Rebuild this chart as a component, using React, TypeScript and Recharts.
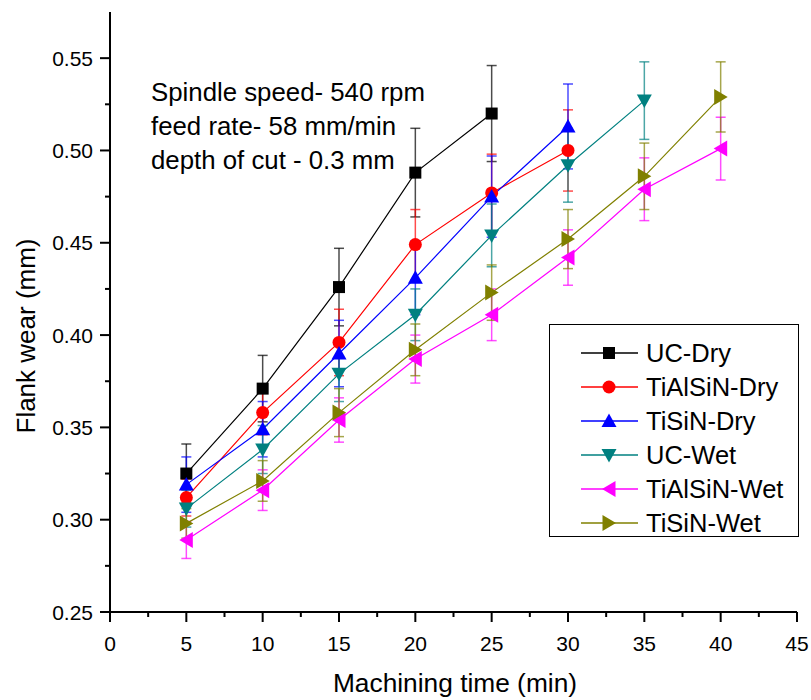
import React from 'react';
import { LineChart, Line, XAxis, YAxis, ErrorBar, Legend, Customized } from 'recharts';

const times = [5, 10, 15, 20, 25, 30, 35, 40];

const ucDry = [0.325, 0.371, 0.426, 0.488, 0.52];
const ucDryErr = [0.016, 0.018, 0.021, 0.024, 0.026];
const tialsinDry = [0.312, 0.358, 0.396, 0.449, 0.477, 0.5];
const tialsinDryErr = [0.01, 0.012, 0.018, 0.019, 0.021, 0.022];
const tisinDry = [0.319, 0.349, 0.39, 0.431, 0.475, 0.513];
const tisinDryErr = [0.015, 0.015, 0.018, 0.02, 0.022, 0.023];
const ucWet = [0.306, 0.338, 0.379, 0.411, 0.454, 0.492, 0.527];
const ucWetErr = [0.01, 0.013, 0.015, 0.014, 0.017, 0.02, 0.021];
const tialsinWet = [0.289, 0.316, 0.354, 0.387, 0.411, 0.442, 0.479, 0.501];
const tialsinWetErr = [0.01, 0.011, 0.012, 0.013, 0.014, 0.015, 0.017, 0.017];
const tisinWet = [0.298, 0.321, 0.358, 0.392, 0.423, 0.452, 0.486, 0.529];
const tisinWetErr = [0.008, 0.011, 0.013, 0.014, 0.015, 0.016, 0.018, 0.019];

const xTicks = [0, 2.5, 5, 7.5, 10, 12.5, 15, 17.5, 20, 22.5, 25, 27.5, 30, 32.5, 35, 37.5, 40, 42.5, 45];
const xMajor = [0, 5, 10, 15, 20, 25, 30, 35, 40, 45];
const yTicks = [0.25, 0.275, 0.3, 0.325, 0.35, 0.375, 0.4, 0.425, 0.45, 0.475, 0.5, 0.525, 0.55];
const yMajor = [0.25, 0.3, 0.35, 0.4, 0.45, 0.5, 0.55];

const annotation = ['Spindle speed- 540 rpm', 'feed rate- 58 mm/min', 'depth of cut - 0.3 mm'];
const xTitle = 'Machining time (min)';
const yTitle = 'Flank wear (mm)';

type Shape = 'square' | 'circle' | 'up' | 'down' | 'left' | 'right';

const series: { name: string; values: number[]; errs: number[]; color: string; shape: Shape }[] = [
  { name: 'UC-Dry', values: ucDry, errs: ucDryErr, color: '#000000', shape: 'square' },
  { name: 'TiAlSiN-Dry', values: tialsinDry, errs: tialsinDryErr, color: '#ff0000', shape: 'circle' },
  { name: 'TiSiN-Dry', values: tisinDry, errs: tisinDryErr, color: '#0000ff', shape: 'up' },
  { name: 'UC-Wet', values: ucWet, errs: ucWetErr, color: '#008080', shape: 'down' },
  { name: 'TiAlSiN-Wet', values: tialsinWet, errs: tialsinWetErr, color: '#ff00ff', shape: 'left' },
  { name: 'TiSiN-Wet', values: tisinWet, errs: tisinWetErr, color: '#808000', shape: 'right' },
];

const FONT = '"Liberation Sans", Arial, sans-serif';

function Marker({ shape, cx, cy, color }: { shape: Shape; cx: number; cy: number; color: string }) {
  if (cx == null || cy == null) return null;
  switch (shape) {
    case 'square':
      return <rect x={cx - 6} y={cy - 6} width={12} height={12} fill={color} />;
    case 'circle':
      return <circle cx={cx} cy={cy} r={6.5} fill={color} />;
    case 'up':
      return <polygon points={`${cx},${cy - 7.5} ${cx + 7.5},${cy + 6} ${cx - 7.5},${cy + 6}`} fill={color} />;
    case 'down':
      return <polygon points={`${cx},${cy + 7.5} ${cx + 7.5},${cy - 6} ${cx - 7.5},${cy - 6}`} fill={color} />;
    case 'left':
      return <polygon points={`${cx - 7},${cy} ${cx + 6.5},${cy - 8} ${cx + 6.5},${cy + 8}`} fill={color} />;
    case 'right':
      return <polygon points={`${cx + 7},${cy} ${cx - 6.5},${cy - 8} ${cx - 6.5},${cy + 8}`} fill={color} />;
  }
  return null;
}

const XTick = (props: any) => {
  const { x, y, payload } = props;
  const v = payload.value;
  const major = xMajor.includes(v);
  return (
    <g>
      <line x1={x} x2={x} y1={y} y2={y + (major ? 10 : 5)} stroke="#000" strokeWidth={2} />
      {major && (
        <text x={x} y={y + 39} textAnchor="middle" fontSize={21} fontFamily={FONT} fill="#000">
          {String(v)}
        </text>
      )}
    </g>
  );
};

const YTick = (props: any) => {
  const { x, y, payload } = props;
  const v = payload.value;
  const major = yMajor.some((m) => Math.abs(m - v) < 1e-9);
  return (
    <g>
      <line x1={x - (major ? 10 : 5)} x2={x} y1={y} y2={y} stroke="#000" strokeWidth={2} />
      {major && (
        <text x={x - 17} y={y + 7.5} textAnchor="end" fontSize={21} fontFamily={FONT} fill="#000">
          {v.toFixed(2)}
        </text>
      )}
    </g>
  );
};

const LegendBox = () => (
  <div style={{ width: 250, height: 213, border: '1px solid #000', boxSizing: 'border-box', background: '#fff' }}>
    <svg width={248} height={211} style={{ display: 'block' }}>
      {series.map((s, i) => {
        const cy = 28 + i * 34;
        return (
          <g key={s.name}>
            <line x1={31} x2={88} y1={cy} y2={cy} stroke={s.color} strokeWidth={1.3} />
            <Marker shape={s.shape} cx={59} cy={cy} color={s.color} />
            <text x={96} y={cy + 9} fontSize={25.5} fontFamily={FONT} fill="#000">
              {s.name}
            </text>
          </g>
        );
      })}
    </svg>
  </div>
);

const Texts = () => (
  <g fontFamily={FONT} fill="#000">
    {annotation.map((t, i) => (
      <text key={t} x={151} y={101 + i * 34} fontSize={25.8}>
        {t}
      </text>
    ))}
    <text x={455} y={692} textAnchor="middle" fontSize={26.3}>
      {xTitle}
    </text>
    <text x={26} y={336} textAnchor="middle" dominantBaseline="central" fontSize={26} transform="rotate(-90, 26, 336)">
      {yTitle}
    </text>
  </g>
);

export default function App() {
  return (
    <div style={{ position: 'absolute', left: 0, top: 0, width: 811, height: 700, background: '#fff' }}>
      <LineChart width={811} height={700} margin={{ top: 12, right: 14, bottom: 28, left: 50 }}>
        <XAxis
          dataKey="x"
          type="number"
          domain={[0, 45]}
          ticks={xTicks}
          interval={0}
          allowDataOverflow
          height={60}
          tickLine={false}
          tickSize={0}
          tickMargin={0}
          axisLine={{ stroke: '#000', strokeWidth: 2 }}
          tick={<XTick />}
        />
        <YAxis
          type="number"
          domain={[0.25, 0.575]}
          ticks={yTicks}
          interval={0}
          allowDataOverflow
          width={60}
          tickLine={false}
          tickSize={0}
          tickMargin={0}
          axisLine={{ stroke: '#000', strokeWidth: 2 }}
          tick={<YTick />}
        />
        <Customized component={Texts} />
        {series.map((s) => (
          <Line
            key={s.name}
            name={s.name}
            data={s.values.map((v, i) => ({ x: times[i], y: v, e: s.errs[i] }))}
            dataKey="y"
            stroke={s.color}
            strokeWidth={1.2}
            isAnimationActive={false}
            activeDot={false}
            dot={(p: any) => <Marker key={`${s.name}-${p.index}`} shape={s.shape} cx={p.cx} cy={p.cy} color={s.color} />}
          >
            <ErrorBar dataKey="e" direction="y" width={5} stroke={s.color} strokeWidth={1.5} strokeOpacity={0.7} isAnimationActive={false} />
          </Line>
        ))}
        <Legend
          layout="vertical"
          align="center"
          verticalAlign="middle"
          content={<LegendBox />}
          wrapperStyle={{ position: 'absolute', left: 549, top: 324, width: 250, height: 213 }}
        />
      </LineChart>
    </div>
  );
}
